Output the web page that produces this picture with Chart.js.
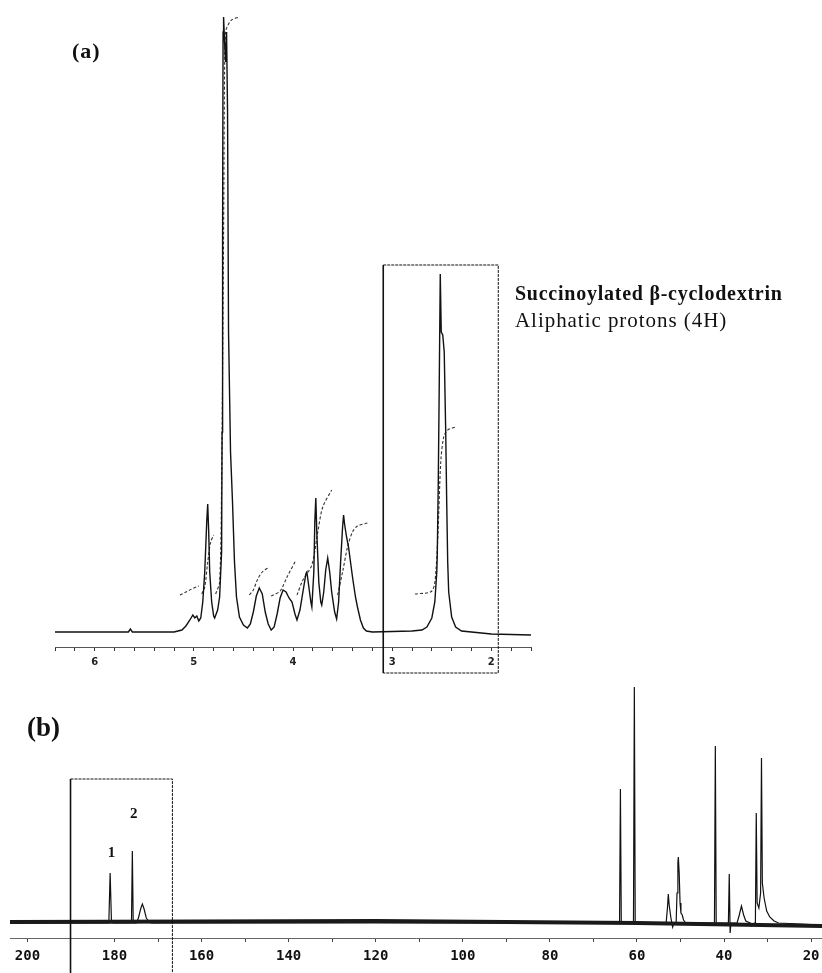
<!DOCTYPE html>
<html>
<head>
<meta charset="utf-8">
<script src="https://cdn.jsdelivr.net/npm/chart.js@4.4.1/dist/chart.umd.min.js"></script>
<style>
  body { margin: 0; background: #fff; width: 822px; height: 973px; position: relative; overflow: hidden; }
  canvas { position: absolute; left: 0; }
  #protonChart { top: 0; }
  #carbonChart { top: 680px; }
  .lbl { position: absolute; font-family: 'Liberation Serif', 'Times New Roman', serif; color: #111; white-space: nowrap; line-height: 1; }
</style>
</head>
<body>
<canvas id="protonChart" width="822" height="680"></canvas>
<canvas id="carbonChart" width="822" height="293"></canvas>
<div class="lbl" style="left:72px;top:40px;font-size:22px;font-weight:bold;letter-spacing:1px">(a)</div>
<div class="lbl" style="left:27px;top:714px;font-size:27px;font-weight:bold">(b)</div>
<div class="lbl" style="left:515px;top:283px;font-size:20px;font-weight:bold;letter-spacing:0.75px">Succinoylated β-cyclodextrin</div>
<div class="lbl" style="left:515px;top:310px;font-size:21px;letter-spacing:0.95px">Aliphatic protons (4H)</div>
<script>
// (a) 1H spectrum, chemical shift (ppm) and signal height
const H_SHIFT = [6.40, 5.66, 5.64, 5.62, 5.20, 5.12, 5.08, 5.04, 5.01, 4.99, 4.97, 4.95, 4.93, 4.91, 4.89, 4.87, 4.86, 4.85, 4.84, 4.82,
  4.80, 4.79, 4.76, 4.74, 4.72, 4.715, 4.71, 4.705, 4.70, 4.69, 4.68, 4.67, 4.66, 4.65, 4.63, 4.61, 4.59, 4.57, 4.54, 4.50,
  4.46, 4.43, 4.40, 4.37, 4.34, 4.31, 4.28, 4.25, 4.22, 4.19, 4.16, 4.13, 4.10, 4.07, 4.04, 4.01, 3.98, 3.96, 3.93, 3.90,
  3.87, 3.86, 3.84, 3.82, 3.81, 3.79, 3.78, 3.77, 3.76, 3.74, 3.72, 3.71, 3.69, 3.67, 3.65, 3.63, 3.61, 3.58, 3.56, 3.54,
  3.52, 3.50, 3.49, 3.48, 3.46, 3.44, 3.42, 3.40, 3.37, 3.35, 3.32, 3.29, 3.26, 3.20, 2.80, 2.70, 2.65, 2.60, 2.57, 2.55,
  2.545, 2.535, 2.525, 2.515, 2.505, 2.49, 2.475, 2.46, 2.45, 2.44, 2.43, 2.40, 2.36, 2.30, 2.00, 1.60];
const H_SIGNAL = [0, 0, 3, 0, 0, 2, 6, 12, 17, 14, 16, 11, 14, 30, 60, 110, 128, 100, 60, 30,
  16, 14, 22, 35, 80, 200, 400, 600, 615, 590, 570, 600, 520, 300, 180, 130, 70, 35, 15, 7,
  4, 8, 20, 36, 44, 38, 20, 8, 2, 5, 18, 34, 42, 40, 34, 30, 18, 12, 22, 40,
  58, 60, 45, 30, 25, 60, 110, 134, 100, 50, 30, 27, 40, 62, 74, 60, 40, 20, 13, 30,
  70, 105, 117, 108, 95, 85, 70, 55, 35, 25, 12, 4, 1, 0, 1, 2, 5, 14, 30, 60,
  78, 150, 250, 358, 300, 297, 280, 200, 130, 70, 40, 15, 5, 1, -2, -3];

// integral traces [ppm, level]
const INTEGRAL_1 = [[5.14, 37], [5.08, 40], [5.02, 43], [4.95, 46]];
const INTEGRAL_2 = [[4.92, 38], [4.89, 45], [4.86, 70], [4.83, 90], [4.80, 97]];
const INTEGRAL_3 = [[4.78, 38], [4.74, 50], [4.72, 150], [4.70, 400], [4.69, 560], [4.68, 600], [4.66, 606], [4.62, 612], [4.54, 615]];
const INTEGRAL_4 = [[4.44, 37], [4.40, 42], [4.36, 52], [4.31, 60], [4.24, 65]];
const INTEGRAL_5 = [[4.22, 36], [4.13, 41], [4.06, 55], [3.97, 72]];
const INTEGRAL_6 = [[3.96, 37], [3.90, 52], [3.81, 67], [3.75, 100], [3.70, 125], [3.61, 142]];
const INTEGRAL_7 = [[3.55, 37], [3.50, 60], [3.45, 85], [3.40, 100], [3.35, 106], [3.25, 109]];
const INTEGRAL_8 = [[2.77, 38], [2.60, 41], [2.56, 60], [2.53, 120], [2.51, 170], [2.48, 195], [2.44, 202], [2.36, 205]];

// (b) 13C spectrum
const C_SHIFT = [204, 181.3, 181.0, 180.7, 180.3, 176.1, 175.9, 175.7, 175.0, 174.5, 174.0, 173.6, 173.2, 172.7, 172.0, 171.5,
  64.0, 63.8, 63.6, 60.8, 60.6, 60.4, 53.3, 53.0, 52.8, 52.6, 52.2, 51.8, 51.5, 51.0, 50.8, 50.6, 50.5, 50.3, 50.1, 49.9,
  49.6, 49.3, 48.8, 42.2, 42.0, 41.8, 39.0, 38.8, 38.6, 38.4, 37.0, 36.5, 36.0, 35.5, 35.0, 34.0, 33.7, 33.0, 32.8, 32.6,
  32.4, 32.0, 31.6, 31.4, 31.2, 30.8, 30.2, 29.5, 28.5, 27.5, 17.5];
const C_SIGNAL = [0, 0, 50, 2, 0, 0, 72, 0, 0, 5, 14, 19, 14, 5, 1, 0,
  0, 134, 0, 0, 236, 0, 0, 15, 29, 18, 5, -4, 0, 0, 30, 60, 66, 50, 20, 10,
  8, 3, 0, 0, 177, 0, 0, 49, -10, 0, 0, 8, 17, 8, 2, 0, -3, 0, 0, 110,
  20, 15, 30, 165, 40, 25, 12, 6, 2, 0, -2];
const C_NOISE_SHIFT = [204, 120, 60, 17.5];
const C_NOISE_LEVEL = [1, 2, 0, -3];

const H_TICKS_MAJOR = [6, 5, 4, 3, 2];
const H_TICK_STEP = 0.2;
const C_TICKS_MAJOR = [200, 180, 160, 140, 120, 100, 80, 60, 40, 20];
const C_TICK_STEP = 10;

function pairs(xs, ys) { return xs.map((v, i) => ({ x: v, y: ys[i] })); }
function trace(list) { return list.map(p => ({ x: p[0], y: p[1] })); }
function tickRun(from, to, step) {
  const out = [];
  const n = Math.round((to - from) / step);
  for (let i = 0; i <= n; i++) out.push({ value: +(from + i * step).toFixed(4) });
  return out;
}

const frames = {
  id: 'frames',
  afterDatasetsDraw(chart, args, opts) {
    const { ctx, scales: { x, y } } = chart;
    if (opts.box) {
      const b = opts.box;
      const l = x.getPixelForValue(b.from), r = x.getPixelForValue(b.to);
      const t = y.getPixelForValue(b.top), bot = chart.height - b.gap;
      ctx.save();
      ctx.strokeStyle = '#111';
      ctx.lineWidth = 1.6;
      ctx.beginPath(); ctx.moveTo(l, bot); ctx.lineTo(l, t); ctx.stroke();
      ctx.lineWidth = 1;
      ctx.setLineDash([3, 1]);
      ctx.beginPath(); ctx.moveTo(l, t); ctx.lineTo(r, t); ctx.lineTo(r, bot);
      if (b.gap > 0) ctx.lineTo(l, bot);
      ctx.stroke();
      ctx.restore();
    }
    (opts.labels || []).forEach(lb => {
      ctx.save();
      ctx.font = 'bold 15px "Liberation Serif", serif';
      ctx.fillStyle = '#111';
      ctx.textAlign = 'center';
      ctx.textBaseline = 'alphabetic';
      ctx.fillText(lb.text, x.getPixelForValue(lb.x), y.getPixelForValue(lb.y));
      ctx.restore();
    });
  }
};

const lineStyle = { borderColor: '#111', borderWidth: 1.2, pointRadius: 0, tension: 0, fill: false };
const integralStyle = { borderColor: '#333', borderWidth: 1.1, borderDash: [3, 2], pointRadius: 0, tension: 0.3, fill: false };

function fitAxis(h) {
  return s => { s.height = h; s.paddingLeft = 0; s.paddingRight = 0; };
}

new Chart(document.getElementById('protonChart'), {
  type: 'line',
  data: {
    datasets: [
      Object.assign({}, lineStyle, { data: pairs(H_SHIFT, H_SIGNAL), borderWidth: 1.4 }),
      ...[INTEGRAL_1, INTEGRAL_2, INTEGRAL_3, INTEGRAL_4, INTEGRAL_5, INTEGRAL_6, INTEGRAL_7, INTEGRAL_8]
        .map(t => Object.assign({ data: trace(t) }, integralStyle))
    ]
  },
  options: {
    responsive: false,
    animation: false,
    layout: { padding: { left: 55, right: 291, top: 0, bottom: 0 } },
    plugins: {
      legend: { display: false },
      tooltip: { enabled: false },
      frames: { box: { from: 3.09, to: 1.93, top: 367, gap: 7 } }
    },
    scales: {
      x: {
        type: 'linear', reverse: true, min: 1.6, max: 6.4,
        afterBuildTicks: s => { s.ticks = tickRun(1.6, 6.4, H_TICK_STEP); },
        afterFit: fitAxis(33),
        grid: { drawOnChartArea: false, tickLength: 4, color: '#333' },
        border: { display: true, color: '#555', dash: [3, 2] },
        ticks: {
          autoSkip: false, maxRotation: 0, padding: 5, color: '#222',
          font: { family: 'DejaVu Sans', size: 10, weight: 'bold' },
          callback: v => {
            const n = Math.round(v);
            return Math.abs(v - n) < 1e-6 && H_TICKS_MAJOR.includes(n) ? String(n) : '';
          }
        }
      },
      y: { display: false, min: -15, max: 632 }
    }
  },
  plugins: [frames]
});

new Chart(document.getElementById('carbonChart'), {
  type: 'line',
  data: {
    datasets: [
      Object.assign({}, lineStyle, { data: pairs(C_NOISE_SHIFT, C_NOISE_LEVEL), borderWidth: 4, borderColor: '#1a1a1a' }),
      Object.assign({ data: pairs(C_SHIFT, C_SIGNAL) }, lineStyle)
    ]
  },
  options: {
    responsive: false,
    animation: false,
    layout: { padding: { left: 10, right: 0, top: 0, bottom: 0 } },
    plugins: {
      legend: { display: false },
      tooltip: { enabled: false },
      frames: {
        box: { from: 190.1, to: 166.7, top: 144, gap: 0 },
        labels: [{ text: '1', x: 180.7, y: 66 }, { text: '2', x: 175.6, y: 105 }]
      }
    },
    scales: {
      x: {
        type: 'linear', reverse: true, min: 17.5, max: 204,
        afterBuildTicks: s => { s.ticks = tickRun(20, 200, C_TICK_STEP); },
        afterFit: fitAxis(35),
        grid: { drawOnChartArea: false, tickLength: 4, color: '#444' },
        border: { display: true, color: '#666', dash: [2, 3] },
        ticks: {
          autoSkip: false, maxRotation: 0, padding: 6, color: '#111',
          font: { family: 'DejaVu Sans Mono', size: 14, weight: 'bold' },
          callback: v => C_TICKS_MAJOR.includes(v) ? String(v) : ''
        }
      },
      y: { display: false, min: -15, max: 243 }
    }
  },
  plugins: [frames]
});
</script>
</body>
</html>
